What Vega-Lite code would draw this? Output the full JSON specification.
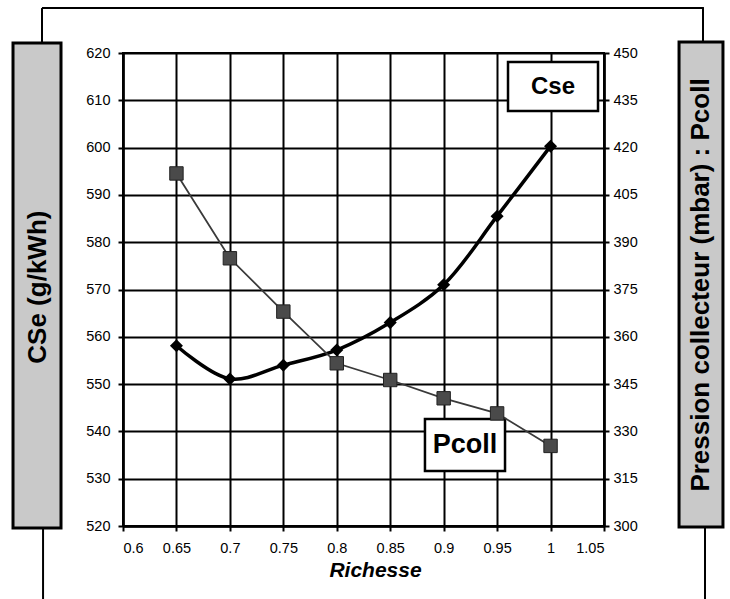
{
  "$schema": "https://vega.github.io/schema/vega-lite/v6.json",
  "width": 481,
  "height": 473,
  "autosize": {"type": "none"},
  "padding": {"left": 123, "top": 53, "right": 126, "bottom": 73},
  "background": "white",
  "config": {
    "font": "Liberation Sans",
    "view": {"stroke": "#000", "strokeWidth": 2},
    "axis": {
      "labelFont": "Liberation Sans",
      "labelFontSize": 14.5,
      "labelColor": "#000",
      "domainColor": "#000",
      "domainWidth": 2.5,
      "tickColor": "#000",
      "tickWidth": 2,
      "tickSize": 5,
      "gridColor": "#000",
      "gridWidth": 2,
      "gridOpacity": 1,
      "titleFont": "Liberation Sans",
      "titleColor": "#000"
    },
    "text": {"font": "Liberation Sans", "fontWeight": "bold", "color": "#000"}
  },
  "data": {
    "values": [
      {"richesse": 0.65, "cse": 558.1, "pcoll": 411.8},
      {"richesse": 0.7, "cse": 551.1, "pcoll": 384.9},
      {"richesse": 0.75, "cse": 554.0, "pcoll": 368.0},
      {"richesse": 0.8, "cse": 557.2, "pcoll": 351.6},
      {"richesse": 0.85, "cse": 563.0, "pcoll": 346.3},
      {"richesse": 0.9, "cse": 571.0, "pcoll": 340.5},
      {"richesse": 0.95, "cse": 585.5, "pcoll": 335.7},
      {"richesse": 1.0, "cse": 600.3, "pcoll": 325.4}
    ]
  },
  "layer": [
    {
      "layer": [
        {
          "data": {"values": [{"part": "top"}]},
          "mark": {"type": "rule", "color": "#000", "strokeWidth": 2},
          "encoding": {
            "x": {"datum": 0.5242, "type": "quantitative", "scale": {"domain": [0.6, 1.05], "nice": false, "zero": false}},
            "x2": {"datum": 1.1435},
            "y": {"datum": 629.5, "type": "quantitative", "scale": {"domain": [520, 620], "nice": false, "zero": false}}
          }
        },
        {
          "data": {"values": [{"x": 0.5242, "ya": 629.5, "yb": 622.1}, {"x": 1.1426, "ya": 629.5, "yb": 622.3}, {"x": 0.5252, "ya": 519.6, "yb": 500}, {"x": 1.1445, "ya": 519.8, "yb": 500}]},
          "mark": {"type": "rule", "color": "#000", "strokeWidth": 2},
          "encoding": {
            "x": {"field": "x", "type": "quantitative", "scale": {"domain": [0.6, 1.05], "nice": false, "zero": false}},
            "y": {"field": "ya", "type": "quantitative", "title": null, "scale": {"domain": [520, 620], "nice": false, "zero": false}},
            "y2": {"field": "yb"}
          }
        },
        {
          "data": {"values": [{"x1": 0.4971, "x2": 0.542, "y1": 622.1, "y2": 519.6}, {"x1": 1.1202, "x2": 1.1613, "y1": 622.3, "y2": 519.8}]},
          "mark": {"type": "rect", "fill": "#c9c9c9", "stroke": "#000", "strokeWidth": 3},
          "encoding": {
            "x": {"field": "x1", "type": "quantitative", "scale": {"domain": [0.6, 1.05], "nice": false, "zero": false}},
            "x2": {"field": "x2"},
            "y": {"field": "y1", "type": "quantitative", "title": null, "scale": {"domain": [520, 620], "nice": false, "zero": false}},
            "y2": {"field": "y2"}
          }
        },
        {
          "data": {"values": [{"t": "CSe (g/kWh)", "x": 0.5205, "y": 570.5}, {"t": "Pression collecteur (mbar) : Pcoll", "x": 1.1407, "y": 570.95}]},
          "mark": {"type": "text", "angle": 270, "align": "center", "baseline": "middle", "fontSize": 26, "fontWeight": "bold"},
          "encoding": {
            "x": {"field": "x", "type": "quantitative", "scale": {"domain": [0.6, 1.05], "nice": false, "zero": false}},
            "y": {"field": "y", "type": "quantitative", "title": null, "scale": {"domain": [520, 620], "nice": false, "zero": false}},
            "text": {"field": "t"}
          }
        },
        {
          "data": {"values": [{"x1": 0.9602, "x2": 1.0444, "y1": 618.1, "y2": 607.74}, {"x1": 0.8825, "x2": 0.9574, "y1": 542.62, "y2": 531.63}]},
          "mark": {"type": "rect", "fill": "#fff", "stroke": "#000", "strokeWidth": 2.5},
          "encoding": {
            "x": {"field": "x1", "type": "quantitative", "scale": {"domain": [0.6, 1.05], "nice": false, "zero": false}},
            "x2": {"field": "x2"},
            "y": {"field": "y1", "type": "quantitative", "title": null, "scale": {"domain": [520, 620], "nice": false, "zero": false}},
            "y2": {"field": "y2"}
          }
        },
        {
          "data": {"values": [{"t": "Cse", "x": 1.0023, "y": 612.9, "s": 24}, {"t": "Pcoll", "x": 0.92, "y": 537.1, "s": 27}]},
          "mark": {"type": "text", "align": "center", "baseline": "middle", "fontWeight": "bold"},
          "encoding": {
            "x": {"field": "x", "type": "quantitative", "scale": {"domain": [0.6, 1.05], "nice": false, "zero": false}},
            "y": {"field": "y", "type": "quantitative", "title": null, "scale": {"domain": [520, 620], "nice": false, "zero": false}},
            "text": {"field": "t"},
            "size": {"field": "s", "type": "quantitative", "scale": null, "legend": null}
          }
        },
        {
          "mark": {"type": "line", "color": "#000", "strokeWidth": 3.5, "interpolate": "catmull-rom"},
          "encoding": {
            "x": {
              "field": "richesse",
              "type": "quantitative",
              "scale": {"domain": [0.6, 1.05], "nice": false, "zero": false},
              "axis": {
                "values": [0.6, 0.65, 0.7, 0.75, 0.8, 0.85, 0.9, 0.95, 1, 1.05],
                "format": ".2~f",
                "grid": true,
                "labelPadding": 10,
                "title": "Richesse",
                "titleFontSize": 21,
                "titleFontWeight": "bold",
                "titleFontStyle": "italic",
                "titleX": 252,
                "titleY": 44,
                "titleBaseline": "middle"
              }
            },
            "y": {
              "field": "cse",
              "type": "quantitative",
              "title": null,
              "scale": {"domain": [520, 620], "nice": false, "zero": false},
              "axis": {
                "values": [520, 530, 540, 550, 560, 570, 580, 590, 600, 610, 620],
                "grid": true,
                "labelPadding": 8,
                "title": null
              }
            }
          }
        },
        {
          "mark": {"type": "point", "shape": "diamond", "filled": true, "color": "#000", "size": 170, "opacity": 1},
          "encoding": {
            "x": {"field": "richesse", "type": "quantitative", "scale": {"domain": [0.6, 1.05], "nice": false, "zero": false}},
            "y": {"field": "cse", "type": "quantitative", "title": null, "scale": {"domain": [520, 620], "nice": false, "zero": false}}
          }
        }
      ]
    },
    {
      "layer": [
        {
          "mark": {"type": "line", "color": "#3a3a3a", "strokeWidth": 1.8},
          "encoding": {
            "x": {"field": "richesse", "type": "quantitative", "scale": {"domain": [0.6, 1.05], "nice": false, "zero": false}},
            "y": {
              "field": "pcoll",
              "type": "quantitative",
              "title": null,
              "scale": {"domain": [300, 450], "nice": false, "zero": false},
              "axis": {
                "orient": "right",
                "values": [300, 315, 330, 345, 360, 375, 390, 405, 420, 435, 450],
                "grid": false,
                "labelPadding": 4,
                "title": null
              }
            }
          }
        },
        {
          "mark": {"type": "point", "shape": "square", "filled": true, "color": "#4a4a4a", "stroke": "#222", "strokeWidth": 1, "size": 180, "opacity": 1},
          "encoding": {
            "x": {"field": "richesse", "type": "quantitative", "scale": {"domain": [0.6, 1.05], "nice": false, "zero": false}},
            "y": {"field": "pcoll", "type": "quantitative", "title": null, "scale": {"domain": [300, 450], "nice": false, "zero": false}}
          }
        }
      ]
    }
  ],
  "resolve": {"scale": {"y": "independent"}, "axis": {"y": "independent"}}
}
